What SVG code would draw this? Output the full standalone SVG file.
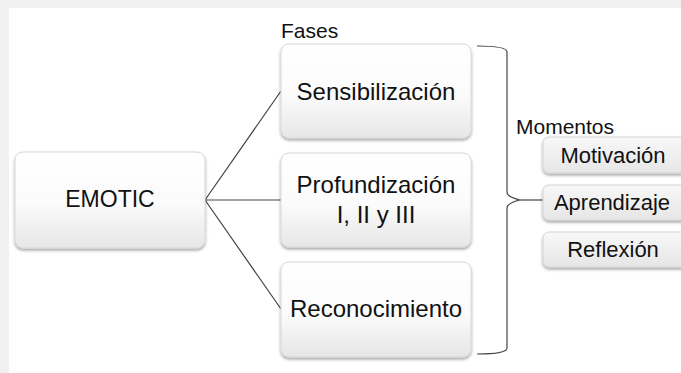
<svg xmlns="http://www.w3.org/2000/svg" width="681" height="373" viewBox="0 0 681 373">
<style>
.t{font-family:"Liberation Sans",Arial,sans-serif;fill:#111;text-anchor:middle}
.box{fill:url(#g);stroke:#d8d8d8;stroke-width:1;filter:url(#sh)}
.sbox{fill:url(#g2);stroke:#d4d4d4;stroke-width:1;filter:url(#sh)}
.ln{fill:none;stroke:#444;stroke-width:1.2}
</style>
<defs>
<linearGradient id="g" x1="0" y1="0" x2="0" y2="1">
<stop offset="0" stop-color="#ffffff"/>
<stop offset="0.55" stop-color="#fbfbfb"/>
<stop offset="1" stop-color="#e6e6e6"/>
</linearGradient>
<linearGradient id="g2" x1="0" y1="0" x2="0" y2="1">
<stop offset="0" stop-color="#f8f8f8"/>
<stop offset="1" stop-color="#e6e6e6"/>
</linearGradient>
<filter id="sh" x="-10%" y="-10%" width="120%" height="140%">
<feDropShadow dx="0" dy="2" stdDeviation="1.5" flood-color="#000" flood-opacity="0.35"/>
</filter>
</defs>
<rect width="681" height="373" fill="#f0f0f0"/>
<rect x="9" y="8" width="672" height="365" fill="#ffffff"/>
<text class="t" x="281" y="38" style="text-anchor:start;font-size:21px">Fases</text>
<text class="t" x="516" y="134" style="text-anchor:start;font-size:21px">Momentos</text>
<g id="connectors">
<path class="ln" d="M205,200 L281,91 M205,200 L281,200 M205,200 L281,309"/>
<path class="ln" d="M477,46 Q507,46 507,52 L507,192 Q507,197 520,200 Q507,203 507,208 L507,348 Q507,354 477,354"/>
<path class="ln" d="M520,200 L543,200"/>
</g>
<g id="emotic">
<rect class="box" x="15" y="152" width="190" height="96" rx="8"/>
<text class="t" x="110" y="207" style="font-size:23px">EMOTIC</text>
</g>
<g id="sensibilizacion">
<rect class="box" x="281" y="44" width="190" height="94" rx="8"/>
<text class="t" x="376" y="100" style="font-size:24px">Sensibilización</text>
</g>
<g id="profundizacion">
<rect class="box" x="281" y="153" width="190" height="94" rx="8"/>
<text class="t" x="376" y="193" style="font-size:24px">Profundización</text>
<text class="t" x="376" y="223" style="font-size:24px">I, II y III</text>
</g>
<g id="reconocimiento">
<rect class="box" x="281" y="262" width="190" height="95" rx="8"/>
<text class="t" x="376" y="317" style="font-size:24px">Reconocimiento</text>
</g>
<g id="motivacion">
<rect class="box sbox" x="543" y="137" width="145" height="36" rx="6"/>
<text class="t" x="613" y="163" style="font-size:22px">Motivación</text>
</g>
<g id="aprendizaje">
<rect class="box sbox" x="543" y="185" width="145" height="35" rx="6"/>
<text class="t" x="612" y="210" style="font-size:22px">Aprendizaje</text>
</g>
<g id="reflexion">
<rect class="box sbox" x="543" y="232" width="145" height="35" rx="6"/>
<text class="t" x="613" y="257" style="font-size:22px">Reflexión</text>
</g>
</svg>
